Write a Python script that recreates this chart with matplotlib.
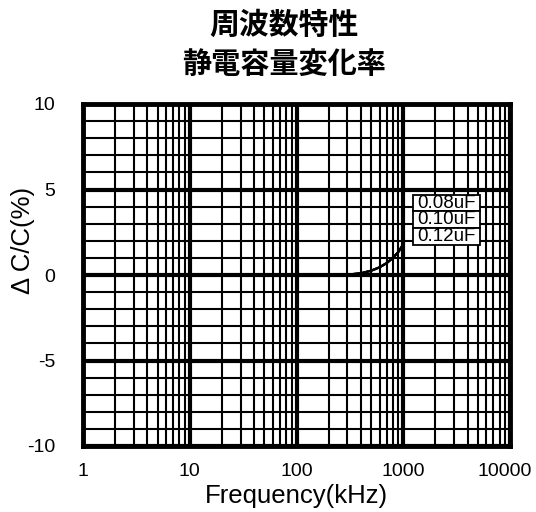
import matplotlib
matplotlib.use("Agg")
import matplotlib.pyplot as plt
from matplotlib.patches import Rectangle
from matplotlib.ticker import FixedLocator, NullFormatter
from matplotlib.transforms import ScaledTranslation
import numpy as np

plt.rcParams['font.family'] = ['Liberation Sans', 'Noto Sans CJK JP', 'DejaVu Sans']

title_lines = ["周波数特性", "静電容量変化率"]
x_label = "Frequency(kHz)"
y_label = "Δ C/C(%)"

series_names = ["0.08uF", "0.10uF", "0.12uF"]
freq_khz = [1, 10, 100, 300, 400, 500, 600, 700, 800, 900, 1000]
dc_008 = [0, 0, 0, 0.02, 0.10, 0.25, 0.45, 0.70, 1.00, 1.35, 1.80]
dc_010 = [0, 0, 0, 0.02, 0.10, 0.25, 0.45, 0.70, 1.00, 1.35, 1.80]
dc_012 = [0, 0, 0, 0.02, 0.10, 0.25, 0.45, 0.70, 1.00, 1.35, 1.80]

x_ticks = [1, 10, 100, 1000, 10000]
x_ticklabels = ["1", "10", "100", "1000", "10000"]
y_ticks = [-10, -5, 0, 5, 10]
y_ticklabels = ["-10", "-5", "0", "5", "10"]

W, H = 536, 512
fig = plt.figure(figsize=(W / 100, H / 100), dpi=100)
ax = fig.add_axes([83 / W, (H - 446) / H, 427 / W, 342 / H])

ax.set_xscale('log')
ax.set_xlim(1, 10000)
ax.set_ylim(-10, 10)

# grid
minor_x = [m * 10 ** d for d in range(4) for m in range(2, 10)]
minor_y = [v for v in range(-10, 11) if v % 5 != 0]
ax.xaxis.set_major_locator(FixedLocator(x_ticks))
ax.xaxis.set_minor_locator(FixedLocator(minor_x))
ax.xaxis.set_minor_formatter(NullFormatter())
ax.yaxis.set_major_locator(FixedLocator(y_ticks))
ax.yaxis.set_minor_locator(FixedLocator(minor_y))
ax.set_xticklabels(x_ticklabels)
ax.set_yticklabels(y_ticklabels)
ax.grid(True, which='major', color='black', linewidth=3.0, zorder=1)
ax.grid(True, which='minor', color='black', linewidth=1.5, zorder=1)
ax.set_axisbelow(True)

ax.tick_params(which='both', length=0)
ax.tick_params(axis='x', labelsize=14, pad=12)
ax.tick_params(axis='y', labelsize=14, pad=20)
for s in ax.spines.values():
    s.set_linewidth(3.5)
    s.set_color('black')

# keep the last x tick label inside the figure
last = ax.get_xticklabels()[-1]
last.set_transform(last.get_transform() + ScaledTranslation(-5 / 100, 0, fig.dpi_scale_trans))

for vals in (dc_008, dc_010, dc_012):
    ax.plot(freq_khz, vals, color='black', linewidth=1.6, zorder=3)

# stacked label boxes
box_left, box_right = 1230, 5250
box_top = 4.7
box_h = 0.98
for i, name in enumerate(series_names):
    y0 = box_top - (i + 1) * box_h
    ax.add_patch(Rectangle((box_left, y0), box_right - box_left, box_h,
                           facecolor='white', edgecolor='black', linewidth=1.3, zorder=4))
    ax.text(np.sqrt(box_left * box_right), y0 + box_h / 2, name, ha='center', va='center',
            fontsize=13.5, zorder=5)

ax.set_xlabel(x_label, fontsize=18.5, labelpad=3)
ylab = ax.set_ylabel(y_label, fontsize=18.5)
ylab.set_va('center')
ax.yaxis.set_label_coords((23 - 83) / 427, (446 - 240) / 342)

fig.text(284 / W, 1 - 25 / H, title_lines[0], ha='center', va='center',
         fontsize=21.5, fontweight='bold', family=['Noto Sans CJK JP'])
fig.text(284 / W, 1 - 64 / H, title_lines[1], ha='center', va='center',
         fontsize=21, fontweight='bold', family=['Noto Sans CJK JP'])

fig.savefig("out.png", dpi=100)
